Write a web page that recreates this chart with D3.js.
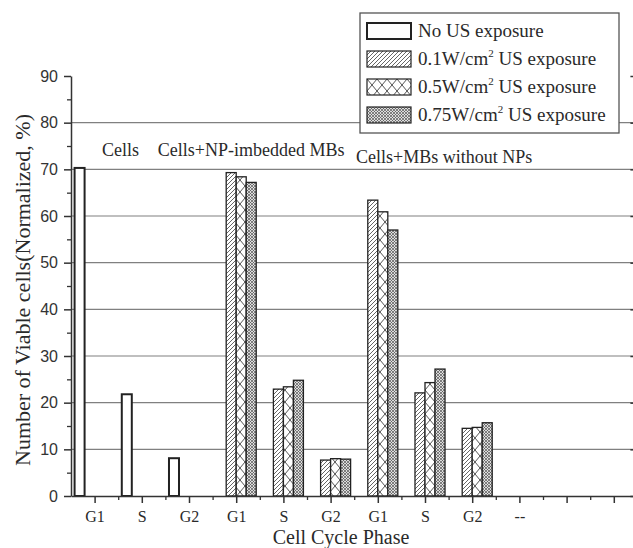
<!DOCTYPE html>
<html>
<head>
<meta charset="utf-8">
<script src="https://cdn.jsdelivr.net/npm/d3@7"></script>
<style>
  body { margin: 0; background: #fff; }
  svg { display: block; }
  .serif { font-family: "Liberation Serif", "Times New Roman", serif; fill: #2a2a2a; }
  .axis path, .axis line { stroke: #333; }
</style>
</head>
<body>
<div id="chart"></div>
<script>
// categories along the x axis
const categories = ["G1", "S", "G2", "G1", "S", "G2", "G1", "S", "G2", "--", "", ""];
const seriesNames = [
  "No US exposure",
  "0.1W/cm",
  "0.5W/cm",
  "0.75W/cm"
];
// values in %, null = no bar
const noUS = [70.3, 21.8, 8.1, null, null, null, null, null, null, null, null, null];
const us01 = [null, null, null, 69.3, 22.9, 7.7, 63.4, 22.1, 14.5, null, null, null];
const us05 = [null, null, null, 68.4, 23.4, 8.0, 60.9, 24.3, 14.7, null, null, null];
const us075 = [null, null, null, 67.2, 24.8, 7.9, 57.0, 27.2, 15.7, null, null, null];
const yTicks = [0, 10, 20, 30, 40, 50, 60, 70, 80, 90];
const annotations = ["Cells", "Cells+NP-imbedded MBs", "Cells+MBs without NPs"];

const config = {
  width: 633,
  height: 548,
  left: 71,
  right: 637.4,
  top: 76,
  bottom: 496
};

const svg = d3.select("#chart").append("svg")
  .attr("width", config.width)
  .attr("height", config.height);

// hatch patterns
const defs = svg.append("defs");
const pDiag = defs.append("pattern").attr("id", "p01")
  .attr("patternUnits", "userSpaceOnUse").attr("width", 4).attr("height", 4);
pDiag.append("rect").attr("width", 4).attr("height", 4).attr("fill", "#fff");
pDiag.append("path").attr("d", "M-1,1 l2,-2 M0,4 l4,-4 M3,5 l2,-2")
  .attr("stroke", "#555").attr("stroke-width", 0.9);

const pCross = defs.append("pattern").attr("id", "p05")
  .attr("patternUnits", "userSpaceOnUse").attr("width", 10).attr("height", 12);
pCross.append("rect").attr("width", 10).attr("height", 12).attr("fill", "#fff");
pCross.append("path").attr("d", "M0,0 L10,12 M10,0 L0,12")
  .attr("stroke", "#555").attr("stroke-width", 1);

const pFine = defs.append("pattern").attr("id", "p075")
  .attr("patternUnits", "userSpaceOnUse").attr("width", 3).attr("height", 3);
pFine.append("rect").attr("width", 3).attr("height", 3).attr("fill", "#ddd");
pFine.append("path").attr("d", "M0,0 L3,3 M3,0 L0,3")
  .attr("stroke", "#555").attr("stroke-width", 0.7);

const fills = ["#fff", "url(#p01)", "url(#p05)", "url(#p075)"];

const x = d3.scaleLinear().domain([0.5, categories.length + 0.5])
  .range([config.left, config.right]);
const y = d3.scaleLinear().domain([0, 90]).range([config.bottom, config.top]);
const step = x(2) - x(1);
const sub = d3.scaleBand().domain(d3.range(4))
  .range([-0.424 * step, 0.424 * step]);

// gridlines
svg.append("g").selectAll("line")
  .data(yTicks.filter(d => d > 0 && d < 90))
  .join("line")
  .attr("x1", config.left).attr("x2", config.right)
  .attr("y1", d => y(d)).attr("y2", d => y(d))
  .attr("stroke", "#808080").attr("stroke-width", 1.2);

// bars
const allSeries = [noUS, us01, us05, us075];
const barData = [];
allSeries.forEach((vals, s) => {
  vals.forEach((v, i) => {
    if (v != null) barData.push({ s: s, i: i + 1, v: v });
  });
});

svg.append("g").selectAll("rect")
  .data(barData)
  .join("rect")
  .attr("x", d => x(d.i) + sub(d.s))
  .attr("width", sub.bandwidth())
  .attr("y", d => y(d.v))
  .attr("height", d => y(0) - y(d.v))
  .attr("fill", d => fills[d.s])
  .attr("stroke", "#222")
  .attr("stroke-width", d => d.s === 0 ? 2 : 1.3);

// axes
const leftAxis = svg.append("g").attr("class", "axis")
  .attr("transform", `translate(${config.left},0)`)
  .call(d3.axisLeft(y).tickValues(yTicks).tickSize(7).tickSizeOuter(0).tickPadding(6));
leftAxis.selectAll("text")
  .attr("font-family", "'Liberation Sans', Arial, sans-serif")
  .attr("font-size", 16).attr("fill", "#333");
leftAxis.select(".domain").attr("stroke-width", 1.5);
leftAxis.selectAll(".tick line").attr("stroke-width", 1.5);

svg.append("g").attr("class", "axis")
  .attr("transform", `translate(${config.left},0)`)
  .call(d3.axisLeft(y).tickValues(d3.range(5, 90, 10)).tickSize(4).tickFormat(""))
  .call(g => g.select(".domain").remove())
  .selectAll(".tick line").attr("stroke-width", 1.3);

// right axis, ticks pointing inward
svg.append("g").attr("class", "axis")
  .attr("transform", `translate(${config.right},0)`)
  .call(d3.axisLeft(y).tickValues(yTicks).tickSize(7).tickSizeOuter(0).tickFormat(""))
  .selectAll("line").attr("stroke-width", 1.5);
svg.append("g").attr("class", "axis")
  .attr("transform", `translate(${config.right},0)`)
  .call(d3.axisLeft(y).tickValues(d3.range(5, 90, 10)).tickSize(4).tickFormat(""))
  .call(g => g.select(".domain").remove())
  .selectAll(".tick line").attr("stroke-width", 1.3);

const bottomAxis = svg.append("g").attr("class", "axis")
  .attr("transform", `translate(0,${config.bottom})`)
  .call(d3.axisBottom(x).tickValues(d3.range(1, categories.length + 1))
    .tickFormat(d => categories[d - 1]).tickSize(7).tickSizeOuter(0).tickPadding(8));
bottomAxis.selectAll("text")
  .attr("class", "serif")
  .attr("font-size", 16);
bottomAxis.select(".domain").attr("stroke-width", 1.5);
bottomAxis.selectAll(".tick line").attr("stroke-width", 1.5);

svg.append("g").attr("class", "axis")
  .attr("transform", `translate(0,${config.bottom})`)
  .call(d3.axisBottom(x).tickValues(d3.range(1.5, categories.length, 1)).tickSize(4).tickFormat(""))
  .call(g => g.select(".domain").remove())
  .selectAll(".tick line").attr("stroke-width", 1.3);

// axis titles
svg.append("text").attr("class", "serif")
  .attr("x", 341).attr("y", 544)
  .attr("text-anchor", "middle")
  .attr("font-size", 20)
  .text("Cell Cycle Phase");

svg.append("text").attr("class", "serif")
  .attr("transform", "translate(30,290) rotate(-90)")
  .attr("text-anchor", "middle")
  .attr("font-size", 22)
  .text("Number of Viable cells(Normalized, %)");

// group annotations
const annotPos = [[1.157, 72.9], [2.34, 72.9], [6.54, 71.4]];
svg.append("g").selectAll("text")
  .data(annotations)
  .join("text")
  .attr("class", "serif")
  .attr("x", (d, i) => x(annotPos[i][0]))
  .attr("y", (d, i) => y(annotPos[i][1]))
  .attr("font-size", 18)
  .text(d => d);

// legend
const legend = svg.append("g").attr("transform", "translate(360,13)");
legend.append("rect")
  .attr("width", 259).attr("height", 120)
  .attr("fill", "#fff").attr("stroke", "#555").attr("stroke-width", 1.3);

const items = legend.selectAll(".legend-item")
  .data(seriesNames)
  .join("g")
  .attr("class", "legend-item")
  .attr("transform", (d, i) => `translate(7,${10 + i * 28})`);

items.append("rect")
  .attr("width", 44).attr("height", 16)
  .attr("fill", (d, i) => fills[i])
  .attr("stroke", "#222")
  .attr("stroke-width", (d, i) => i === 0 ? 2 : 1.2);

items.append("text")
  .attr("class", "serif")
  .attr("x", 51).attr("y", 14)
  .attr("font-size", 19)
  .each(function (d, i) {
    const t = d3.select(this);
    if (i === 0) {
      t.text(d);
    } else {
      t.append("tspan").text(d);
      t.append("tspan").attr("font-size", 11).attr("dy", -8).text("2");
      t.append("tspan").attr("dy", 8).text(" US exposure");
    }
  });
</script>
</body>
</html>
